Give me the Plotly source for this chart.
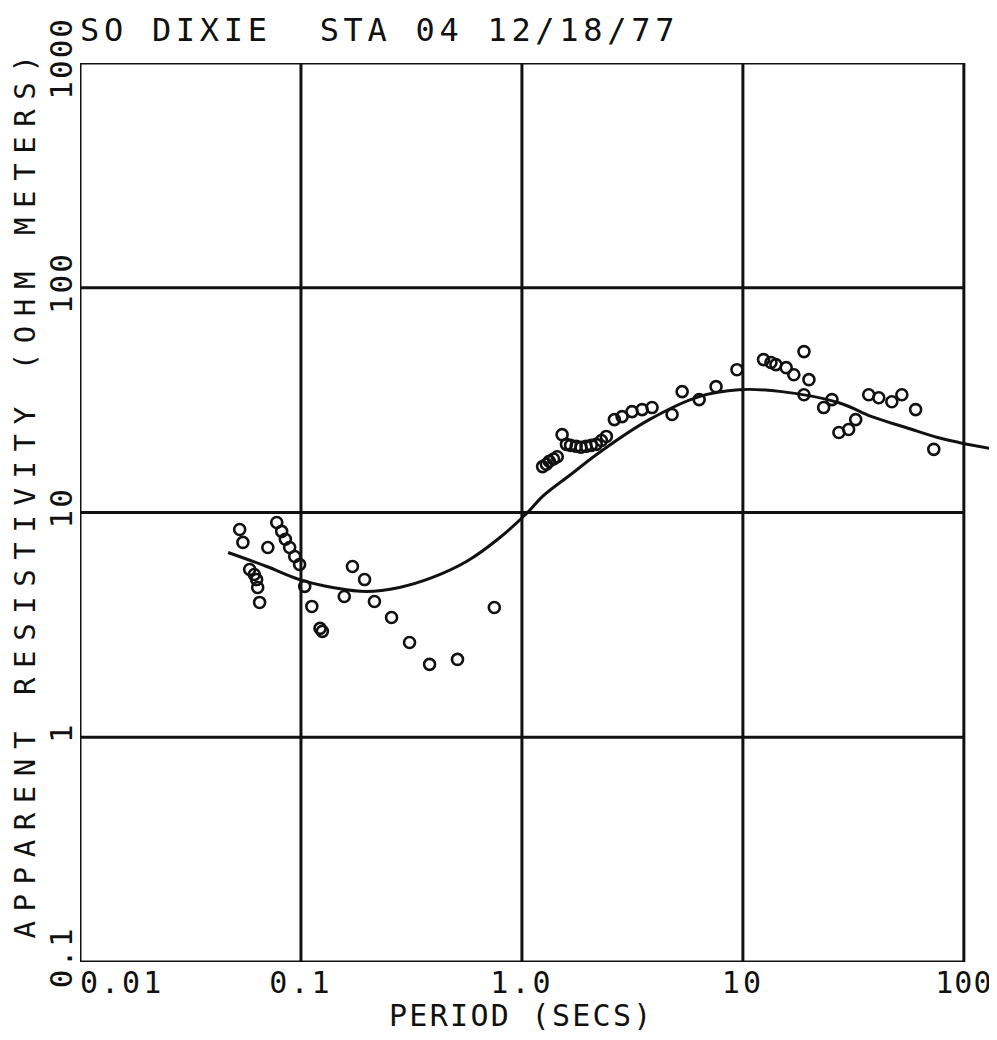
import plotly.graph_objects as go

# ---- data ----
period_short = [0.0528, 0.0546, 0.0586, 0.0615, 0.063, 0.0637, 0.065, 0.0708, 0.0777, 0.0818,
                0.0850, 0.0889, 0.0937, 0.0986, 0.104, 0.112, 0.122, 0.125, 0.157, 0.171,
                0.194, 0.215, 0.257, 0.310, 0.382, 0.511, 0.750]
rho_short = [8.4, 7.36, 5.58, 5.3, 5.03, 4.64, 3.98, 6.99, 9.03, 8.24,
             7.6, 6.99, 6.37, 5.87, 4.69, 3.82, 3.05, 2.96, 4.23, 5.75,
             5.03, 4.02, 3.41, 2.64, 2.11, 2.22, 3.78]

period_long = [1.24, 1.29, 1.33, 1.39, 1.445, 1.52, 1.59, 1.66, 1.76, 1.85, 1.95, 2.06, 2.17,
               2.29, 2.41, 2.62, 2.84, 3.15, 3.50, 3.88, 4.78, 5.31, 6.34, 7.56, 9.40,
               12.4, 13.4, 14.1, 15.7, 17.0, 18.9, 19.9, 18.9, 23.2, 25.3, 27.2, 30.1,
               32.4, 37.1, 41.2, 47.2, 52.4, 60.5, 73.1]
rho_long = [16.0, 16.4, 16.9, 17.3, 17.7, 22.2, 20.1, 19.9, 19.7, 19.5, 19.7, 19.9, 20.1,
            20.9, 21.8, 25.9, 26.7, 28.1, 28.7, 29.3, 27.3, 34.5, 31.8, 36.3, 43.2,
            47.9, 46.5, 45.5, 44.1, 41.0, 52.0, 39.0, 33.4, 29.3, 31.8, 22.7, 23.4,
            25.9, 33.4, 32.4, 31.1, 33.4, 28.7, 19.1]

curve_period = [0.0468, 0.07, 0.0986, 0.139, 0.198, 0.279, 0.394, 0.561, 0.790, 1.06, 1.24,
                1.67, 2.24, 3.77, 6.34, 9.6, 15.0, 27.2, 38.3, 54.6, 76.9, 94.8, 139]
curve_rho = [6.64, 5.75, 5.03, 4.64, 4.45, 4.64, 5.14, 6.05, 7.7, 10.0, 11.8,
             14.8, 18.5, 25.9, 32.8, 35.2, 34.5, 30.8, 26.7, 23.9, 21.5, 20.5, 19.1]

grid_x = [0.01, 0.1, 1, 10, 100]
grid_y = [0.1, 1, 10, 100, 1000]
x_ticks = [0.1, 1, 10, 100]
x_ticktext = ["0.1", "1.0", "10", "100"]
x_first_tick = [0.01]
x_first_ticktext = ["0.01"]
y_ticks = [0.1, 1, 10, 100, 1000]
y_ticktext = ["0.1", "1", "10", "100", "1000"]

title_text = "SO DIXIE  STA 04 12/18/77"
x_title = "PERIOD (SECS)"
y_title = "APPARENT RESISTIVITY (OHM METERS)"

FONT = "DejaVu Sans Mono"
INK = "#111111"
X_RANGE = [-2, 2.15]


def spaced(t, px):
    return f'<span style="letter-spacing:{px}px">{t}</span>'


fig = go.Figure()

fig.add_trace(go.Scatter(
    x=period_short + period_long, y=rho_short + rho_long, mode="markers",
    marker=dict(symbol="circle-open", size=11, color=INK, line=dict(width=2.6, color=INK)),
    showlegend=False, hoverinfo="x+y"))

# fitted model curve, plotted against the twin x axis (same scale)
fig.add_trace(go.Scatter(
    x=curve_period, y=curve_rho, mode="lines", xaxis="x2", yaxis="y",
    line=dict(color=INK, width=3, shape="spline", smoothing=1.1),
    showlegend=False, hoverinfo="skip"))

# grid and frame
shapes = []
for xv in grid_x:
    shapes.append(dict(type="line", xref="x", yref="y", x0=xv, x1=xv,
                       y0=grid_y[0], y1=grid_y[-1], line=dict(color=INK, width=3)))
for yv in grid_y:
    shapes.append(dict(type="line", xref="x", yref="y", x0=grid_x[0], x1=grid_x[-1],
                       y0=yv, y1=yv, line=dict(color=INK, width=3)))
fig.update_layout(shapes=shapes)

common_x = dict(type="log", range=X_RANGE, showgrid=False, zeroline=False, showline=False,
                ticks="", ticklabelstandoff=0, ticklabeloverflow="allow", automargin=False,
                tickfont=dict(family=FONT, size=30, color=INK))
fig.update_layout(
    xaxis=dict(tickvals=x_ticks,
               ticktext=[spaced(t, 3 if t != "100" else 1) for t in x_ticktext],
               **common_x),
    xaxis2=dict(tickvals=x_first_tick, ticktext=[spaced(t, 3) for t in x_first_ticktext],
                overlaying="x", anchor="y", side="bottom",
                ticklabelposition="outside right", **common_x),
)
fig.update_yaxes(type="log", range=[-1, 3], tickvals=y_ticks,
                 ticktext=[spaced(t, 2) for t in y_ticktext], tickangle=-90,
                 showgrid=False, zeroline=False, showline=False, ticks="",
                 ticklabelstandoff=1, ticklabeloverflow="allow", automargin=False,
                 tickfont=dict(family=FONT, size=31, color=INK))

fig.add_annotation(text=spaced(title_text, 4.7), xref="paper", yref="paper",
                   x=0, y=1, xanchor="left", yanchor="middle", xshift=-2, yshift=33,
                   showarrow=False, font=dict(family=FONT, size=32, color=INK))
fig.add_annotation(text=spaced(x_title, 2.3), xref="x", yref="paper",
                   x=0, y=0, xanchor="center", yanchor="middle", yshift=-53,
                   showarrow=False, font=dict(family=FONT, size=30, color=INK))
fig.add_annotation(text=spaced(y_title, 9.6), xref="paper", yref="paper",
                   x=0, y=0.5, xanchor="center", yanchor="middle", xshift=-56, yshift=20,
                   textangle=-90, showarrow=False, font=dict(family=FONT, size=29, color=INK))

fig.update_layout(width=989, height=1032,
                  margin=dict(l=72, r=0, t=55, b=78, autoexpand=False),
                  paper_bgcolor="white", plot_bgcolor="white")

fig.write_html("out.html")
